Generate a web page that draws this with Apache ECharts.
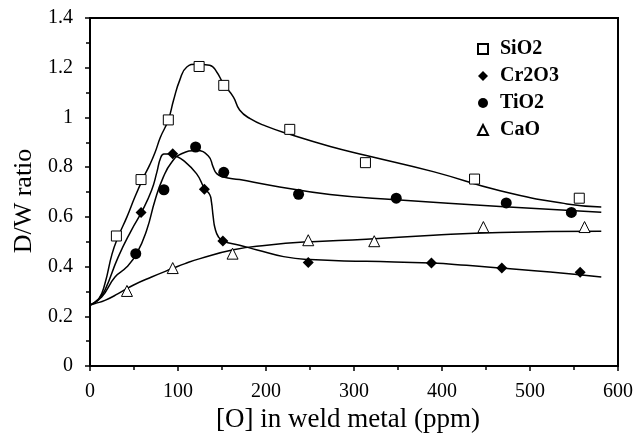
<!DOCTYPE html>
<html>
<head>
<meta charset="utf-8">
<script src="https://cdn.jsdelivr.net/npm/echarts@6/dist/echarts.min.js"></script>
<style>
html,body{margin:0;padding:0;background:#fff;}
#chart{width:643px;height:438px;}
</style>
</head>
<body>
<div id="chart"></div>
<script>
//测量点
var sio2X=[30,58,89,124,152,227,313,437,556];
var sio2Y=[0.523,0.75,0.99,1.205,1.129,0.952,0.818,0.752,0.675];
var cr2o3X=[58,94,130,151,248,388,468,557];
var cr2o3Y=[0.618,0.854,0.711,0.503,0.416,0.414,0.394,0.377];
var tio2X=[52,84,120,152,237,348,473,547];
var tio2Y=[0.452,0.709,0.881,0.779,0.691,0.675,0.656,0.618];
var caoX=[42,94,162,248,323,447,562];
var caoY=[0.302,0.394,0.452,0.506,0.502,0.559,0.559];
//拟合曲线
var sio2FitX=[0,10,17,25,32,42,51,61,68,74,80,89,95,102,110,121,136,144,151.5,163,170,182,200,227,273,314,390,466,542,581];
var sio2FitY=[0.245,0.27,0.332,0.45,0.52,0.60,0.68,0.76,0.81,0.86,0.92,0.99,1.07,1.15,1.203,1.214,1.21,1.183,1.136,1.082,1.03,0.995,0.965,0.932,0.883,0.847,0.782,0.705,0.652,0.64];
var cr2o3FitX=[0,10,17,32,47,58.7,70,76,80,84,90,96.6,106,121,130,136,138,140,142,146,151.5,170,190,220,250,314,388,428,468,523,581];
var cr2o3FitY=[0.245,0.27,0.305,0.438,0.546,0.62,0.707,0.78,0.835,0.853,0.853,0.846,0.827,0.774,0.715,0.69,0.66,0.60,0.555,0.519,0.502,0.486,0.467,0.44,0.428,0.421,0.414,0.405,0.394,0.378,0.358];
var tio2FitX=[0,13.3,28.4,41.7,53,64.4,73.9,83.3,92.8,104,121,134.5,140,144,151.5,170,204.5,272.7,347.7,466,581];
var tio2FitY=[0.245,0.278,0.358,0.398,0.452,0.546,0.667,0.76,0.82,0.854,0.867,0.845,0.80,0.774,0.76,0.75,0.727,0.69,0.669,0.642,0.619];
var caoFitX=[0,5.7,17,32,49,70,93.6,108,125,163,201,246,314,390,466,581];
var caoFitY=[0.244,0.251,0.264,0.291,0.325,0.358,0.392,0.412,0.432,0.468,0.486,0.499,0.51,0.526,0.537,0.542];
//坐标轴
var xMin=0,xMax=600,xStep=100;
var yMin=0,yMax=1.4,yStep=0.2;

function zip(xs,ys){
	var arr=[];
	for(var i=0;i<xs.length;i++){
		arr.push([xs[i],ys[i]]);
	}
	return arr;
}

var serif='"Liberation Serif","DejaVu Serif",serif';

function scatter(name,xs,ys,symbol,hollow,size){
	return {
		name:name,
		type:'scatter',
		symbol:symbol,
		symbolSize:size,
		z:5,
		itemStyle:{
			color:hollow?'#fff':'#000',
			borderColor:'#000',
			borderWidth:hollow?1:0,
			opacity:1
		},
		data:zip(xs,ys)
	};
}
function fit(name,xs,ys){
	return {
		name:name,
		type:'line',
		symbol:'none',
		smooth:0.5,
		z:3,
		lineStyle:{color:'#000',width:1.5},
		data:zip(xs,ys)
	};
}

var myChart=echarts.init(document.getElementById('chart'));
var option={
	backgroundColor:'#fff',
	animation:false,
	grid:{
		left:90,right:25,top:18,bottom:72,
		containLabel:false,outerBoundsMode:'none',
		show:true,borderColor:'#000',borderWidth:2,backgroundColor:'transparent'
	},
	legend:{
		data:['SiO2','Cr2O3','TiO2','CaO'],
		orient:'vertical',
		left:472,top:34,
		itemWidth:10,itemHeight:10,itemGap:7,
		textStyle:{fontFamily:serif,fontSize:20,fontWeight:'bold',color:'#000',lineHeight:20,padding:[0,0,0,7]}
	},
	xAxis:{
		type:'value',min:xMin,max:xMax,interval:xStep,
		name:'[O] in weld metal (ppm)',nameLocation:'middle',nameGap:36,
		nameTextStyle:{fontFamily:serif,fontSize:27,color:'#000',verticalAlign:'top',padding:[0,12,0,0]},
		axisLine:{show:true,lineStyle:{color:'#000',width:2}},
		axisTick:{show:true,length:5,lineStyle:{color:'#000',width:1.5}},
		minorTick:{show:true,splitNumber:2,length:4,lineStyle:{color:'#000',width:1.5}},
		axisLabel:{fontFamily:serif,fontSize:20,color:'#000',margin:16},
		splitLine:{show:false}
	},
	yAxis:{
		type:'value',min:yMin,max:yMax,interval:yStep,
		name:'D/W ratio',nameLocation:'middle',nameGap:44,
		nameTextStyle:{fontFamily:serif,fontSize:26,color:'#000',verticalAlign:'bottom',padding:[0,18,0,0]},
		axisLine:{show:true,lineStyle:{color:'#000',width:2}},
		axisTick:{show:true,length:5,lineStyle:{color:'#000',width:1.5}},
		minorTick:{show:true,splitNumber:2,length:4,lineStyle:{color:'#000',width:1.5}},
		axisLabel:{fontFamily:serif,fontSize:20,color:'#000',margin:17},
		splitLine:{show:false}
	},
	series:[
		fit('SiO2 fit',sio2FitX,sio2FitY),
		fit('Cr2O3 fit',cr2o3FitX,cr2o3FitY),
		fit('TiO2 fit',tio2FitX,tio2FitY),
		fit('CaO fit',caoFitX,caoFitY),
		scatter('SiO2',sio2X,sio2Y,'rect',true,10),
		scatter('Cr2O3',cr2o3X,cr2o3Y,'diamond',false,11),
		scatter('TiO2',tio2X,tio2Y,'circle',false,11),
		scatter('CaO',caoX,caoY,'triangle',true,11)
	]
};
myChart.setOption(option);
</script>
</body>
</html>
